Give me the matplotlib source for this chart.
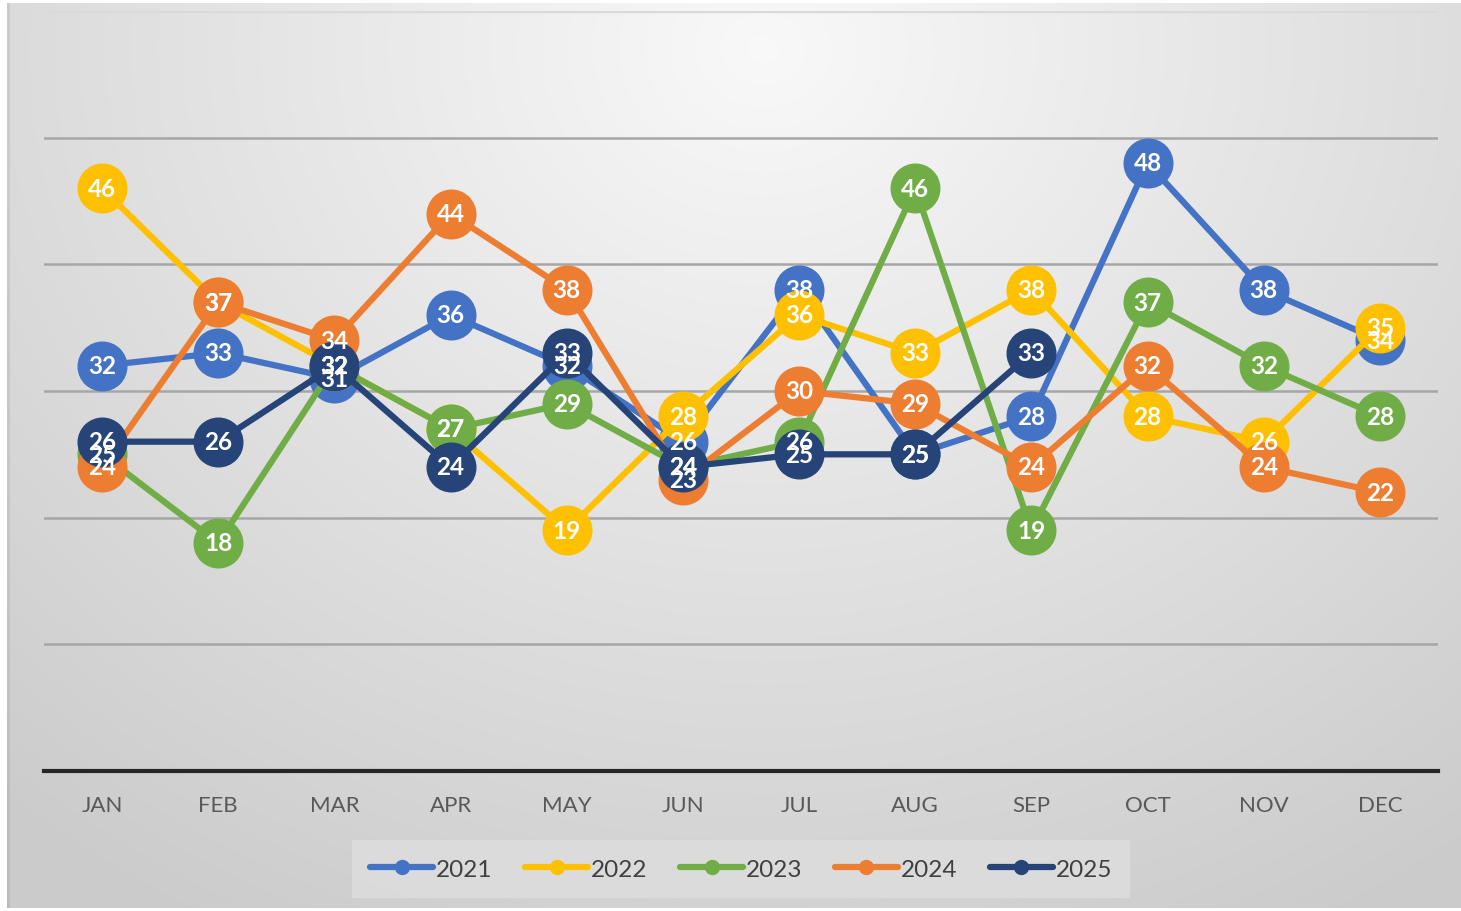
import numpy as np
import matplotlib
matplotlib.use("Agg")
import matplotlib.pyplot as plt
from matplotlib.lines import Line2D

months = ["JAN", "FEB", "MAR", "APR", "MAY", "JUN", "JUL", "AUG", "SEP", "OCT", "NOV", "DEC"]
years = ["2021", "2022", "2023", "2024", "2025"]
v2021 = [32, 33, 31, 36, 32, 26, 38, 25, 28, 48, 38, 34]
v2022 = [46, 37, 32, 27, 19, 28, 36, 33, 38, 28, 26, 35]
v2023 = [25, 18, 32, 27, 29, 24, 26, 46, 19, 37, 32, 28]
v2024 = [24, 37, 34, 44, 38, 23, 30, 29, 24, 32, 24, 22]
v2025 = [26, 26, 32, 24, 33, 24, 25, 25, 33]
series = [v2021, v2022, v2023, v2024, v2025]
colors = ["#4472C4", "#FFC000", "#70AD47", "#ED7D31", "#264478"]

plt.rcParams['font.family'] = ['Lato', 'DejaVu Sans']

W, H = 1461, 912
fig = plt.figure(figsize=(W / 100, H / 100), dpi=100, facecolor='white')

# background radial gradient inside the chart area (white margin at left/top/bottom)
x0, y0, x1, y1 = 7, 4, W, 909
bg = fig.add_axes([x0 / W, 1 - y1 / H, (x1 - x0) / W, (y1 - y0) / H], zorder=-10)
hh, ww = y1 - y0, x1 - x0
yy, xx = np.mgrid[0:hh, 0:ww]
cx, cy = ww * 0.52, hh * 0.05
d = np.sqrt(((xx - cx) / (ww * 0.72)) ** 2 + ((yy - cy) / (hh * 1.0)) ** 2)
d = np.clip(d, 0, 1.1)
g = 0.975 - 0.16 * d
img = np.dstack([g, g, g])
img[:, :3, :] *= 0.93
bg.imshow(img, aspect='auto', extent=[0, 1, 0, 1], origin='upper')
bg.set_xlim(0, 1)
bg.set_ylim(0, 1)
bg.axis('off')

ax = fig.add_axes([44 / W, 1 - 772 / H, (1438 - 44) / W, (772 - 12) / H])
ax.set_facecolor('none')
ax.patch.set_alpha(0)
x = np.arange(len(months))

for i, (vals, c) in enumerate(zip(series, colors)):
    xs = x[:len(vals)]
    ax.plot(xs, vals, color=c, lw=4.5, marker='o', ms=35, mec=c, mfc=c,
            zorder=3 + i, solid_capstyle='round', solid_joinstyle='round')

for i, vals in enumerate(series):
    for xi, v in zip(x, vals):
        ax.text(xi, v, str(v), ha='center', va='center', color='white',
                fontsize=17.5, fontweight='bold', zorder=20)

ax.set_xlim(-0.5, 11.5)
ax.set_ylim(0, 60)
ax.set_yticks([])
for gy in [10, 20, 30, 40, 50]:
    ax.axhline(gy, color='#a6a6a6', lw=1.8, zorder=1)
ax.axhline(60, color='#dadada', lw=2.5, zorder=1)
for s in ['top', 'right', 'left']:
    ax.spines[s].set_visible(False)
ax.spines['bottom'].set_color('#262626')
ax.spines['bottom'].set_linewidth(3)
ax.set_xticks(x)
ax.set_xticklabels(months, fontsize=16, color='#595959')
ax.tick_params(axis='x', length=0, pad=17)

handles = [Line2D([0], [0], color=c, lw=4.5, marker='o', ms=10, solid_capstyle='round')
           for c in colors]
leg = fig.legend(handles, years, loc='center', bbox_to_anchor=(741 / W, 1 - 870 / H),
                 ncol=5, frameon=True, fontsize=17.5, handlelength=2.6, handletextpad=0.1,
                 columnspacing=1.35, borderpad=0.75, borderaxespad=0, fancybox=False)
leg.get_frame().set_facecolor('#dedede')
leg.get_frame().set_edgecolor('none')
for t in leg.get_texts():
    t.set_color('#404040')

fig.savefig('out.png', dpi=100, facecolor='white')
